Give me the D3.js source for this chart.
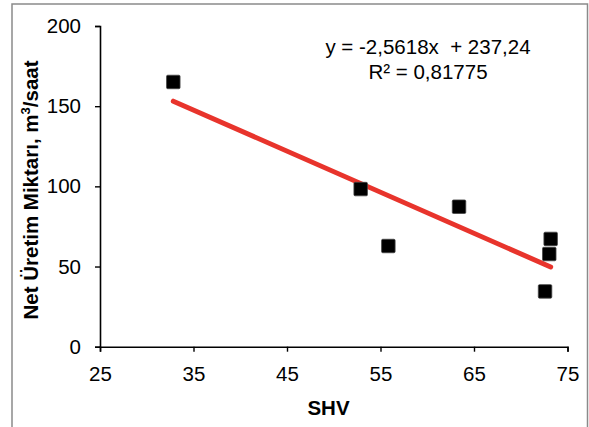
<!DOCTYPE html>
<html>
<head>
<meta charset="utf-8">
<script src="https://cdn.jsdelivr.net/npm/d3@7/dist/d3.min.js"></script>
<style>
  html, body { margin: 0; padding: 0; background: #fff; }
  svg { display: block; font-family: "Liberation Sans", Arial, sans-serif; }
</style>
</head>
<body>
<svg id="chart" width="589" height="427"></svg>
<script>
// SHV vs. net production measurements
const shv = [32.84, 52.88, 63.4, 55.84, 73.2, 73.05, 72.6];
const netProduction = [165.1, 98.3, 87.3, 62.8, 67.2, 57.8, 34.5];

// Linear trend reported for the data
const slope = -2.5618;
const intercept = 237.24;
const equationLines = ["y = -2,5618x  + 237,24", "R² = 0,81775"];

const xTicks = [25, 35, 45, 55, 65, 75];
const yTicks = [0, 50, 100, 150, 200];

const svg = d3.select("#chart");

const x = d3.scaleLinear().domain([25, 75]).range([100, 567.5]);
const y = d3.scaleLinear().domain([0, 200]).range([346.7, 26]);

// Outer frame
svg.append("rect")
  .attr("x", 12).attr("y", 4)
  .attr("width", 575.5).attr("height", 440)
  .attr("fill", "none")
  .attr("stroke", "#8a8a8a")
  .attr("stroke-width", 1.5);

// Axes
const xAxis = svg.append("g")
  .attr("transform", `translate(0,${y(0)})`)
  .call(d3.axisBottom(x).tickValues(xTicks).tickSize(5).tickPadding(15).tickFormat(d3.format("d")));
const yAxis = svg.append("g")
  .attr("transform", `translate(${x(25)},0)`)
  .call(d3.axisLeft(y).tickValues(yTicks).tickSize(5).tickPadding(14).tickFormat(d3.format("d")));

[xAxis, yAxis].forEach(g => {
  g.select(".domain").attr("stroke", "#000").attr("stroke-width", 1.6);
  g.selectAll(".tick line").attr("stroke", "#000").attr("stroke-width", 1.4);
  g.selectAll(".tick text")
    .attr("fill", "#000")
    .style("font-size", "20.5px")
    .style("font-family", "'Liberation Sans', Arial, sans-serif");
});

// Trend line across the observed SHV range
const [xMin, xMax] = d3.extent(shv);
svg.append("line")
  .attr("x1", x(xMin)).attr("y1", y(slope * xMin + intercept))
  .attr("x2", x(xMax)).attr("y2", y(slope * xMax + intercept))
  .attr("stroke", "#e8342c")
  .attr("stroke-width", 5)
  .attr("stroke-linecap", "round");

// Square markers
const size = 13.5;
svg.append("g").selectAll("rect")
  .data(shv.map((v, i) => [v, netProduction[i]]))
  .join("rect")
  .attr("x", d => x(d[0]) - size / 2)
  .attr("y", d => y(d[1]) - size / 2)
  .attr("width", size).attr("height", size)
  .attr("rx", 1.2)
  .attr("fill", "#000")
  .attr("stroke", "#444")
  .attr("stroke-width", 0.8);

// Equation and R² annotation
svg.append("g").selectAll("text")
  .data(equationLines)
  .join("text")
  .attr("x", 428)
  .attr("y", (d, i) => 54.3 + i * 25)
  .attr("text-anchor", "middle")
  .style("font-size", "20.5px")
  .attr("xml:space", "preserve")
  .style("white-space", "pre")
  .text(d => d);

// Axis titles
svg.append("text")
  .attr("x", 328.5).attr("y", 415)
  .attr("text-anchor", "middle")
  .style("font-size", "20.5px")
  .style("font-weight", "bold")
  .text("SHV");

const yTitle = svg.append("text")
  .attr("transform", "translate(38,190) rotate(-90)")
  .attr("text-anchor", "middle")
  .style("font-size", "20.5px")
  .style("font-weight", "bold");
yTitle.append("tspan").text("Net Üretim Miktarı, m");
yTitle.append("tspan").attr("dy", -8).style("font-size", "13px").text("3");
yTitle.append("tspan").attr("dy", 8).text("/saat");
</script>
</body>
</html>
